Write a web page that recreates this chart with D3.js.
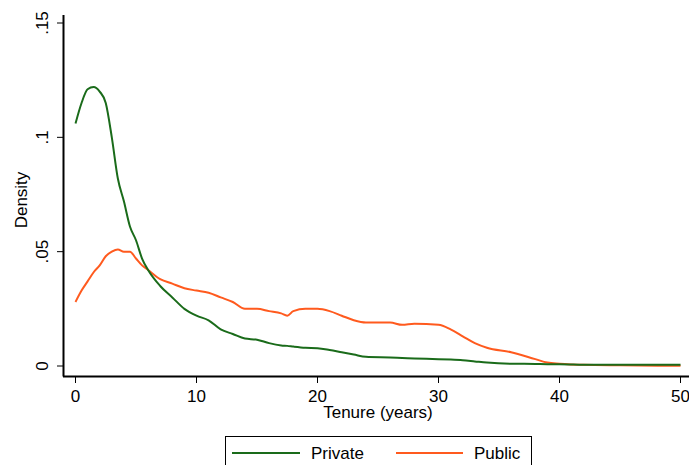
<!DOCTYPE html><html><head><meta charset="utf-8">
<script src="https://cdn.jsdelivr.net/npm/d3@7"></script>
<style>body{margin:0;background:#fff}text{font-family:"Liberation Sans",Arial,sans-serif}</style></head><body>
<svg id="c" width="689" height="465"></svg>
<script>
const tenure=[0,0.5,1,1.5,2,2.5,3,3.5,4,4.5,5,5.5,6,7,8,9,10,11,12,13,14,15,16,17,17.5,18,19,20,21,22,23,24,26,27,28,30,31,32,33,34,36,38,39,40,42,45,50];
const privateD=[0.106,0.115,0.121,0.122,0.12,0.115,0.10,0.082,0.072,0.061,0.055,0.047,0.042,0.035,0.030,0.025,0.022,0.020,0.016,0.014,0.012,0.0115,0.010,0.009,0.0088,0.0085,0.008,0.0078,0.007,0.006,0.005,0.004,0.0037,0.0035,0.0033,0.003,0.0028,0.0025,0.002,0.0015,0.001,0.0009,0.0008,0.0008,0.0006,0.0005,0.0005];
const publicD=[0.028,0.033,0.037,0.041,0.044,0.048,0.050,0.051,0.050,0.050,0.047,0.044,0.042,0.038,0.036,0.034,0.033,0.032,0.030,0.028,0.025,0.025,0.024,0.023,0.022,0.024,0.025,0.025,0.024,0.022,0.020,0.019,0.019,0.018,0.0185,0.018,0.016,0.013,0.010,0.008,0.006,0.003,0.0015,0.001,0.0005,0.0003,0.0001];
const xTicks=[0,10,20,30,40,50], yTicks=[0,0.05,0.1,0.15], yLabels=["0",".05",".1",".15"];
const svg=d3.select("#c");
const x=d3.scaleLinear([0,50],[75.5,680.5]);
const y=d3.scaleLinear([0,0.15],[366,23]);
svg.append("line").attr("x1",63.5).attr("x2",63.5).attr("y1",15).attr("y2",376.5).attr("stroke","#000").attr("stroke-width",2);
svg.append("line").attr("x1",63).attr("x2",689).attr("y1",376.5).attr("y2",376.5).attr("stroke","#000").attr("stroke-width",2);
xTicks.forEach(t=>{svg.append("line").attr("x1",x(t)).attr("x2",x(t)).attr("y1",377).attr("y2",383).attr("stroke","#000");
 svg.append("text").attr("x",x(t)).attr("y",402).attr("text-anchor","middle").attr("font-size",17).text(t);});
yTicks.forEach((t,i)=>{svg.append("line").attr("x1",57).attr("x2",63).attr("y1",y(t)).attr("y2",y(t)).attr("stroke","#000");
 svg.append("text").attr("transform",`translate(48,${y(t)}) rotate(-90)`).attr("text-anchor","middle").attr("font-size",17).text(yLabels[i]);});
svg.append("text").attr("x",378).attr("y",418).attr("text-anchor","middle").attr("font-size",17).text("Tenure (years)");
svg.append("text").attr("transform","translate(27,200) rotate(-90)").attr("text-anchor","middle").attr("font-size",17).text("Density");
const line=s=>d3.line().x((d,i)=>x(tenure[i])).y(d=>y(d)).curve(d3.curveMonotoneX)(s);
svg.append("path").attr("d",line(publicD)).attr("fill","none").attr("stroke","#ff5a1e").attr("stroke-width",2);
svg.append("path").attr("d",line(privateD)).attr("fill","none").attr("stroke","#1a6b1a").attr("stroke-width",2);
svg.append("rect").attr("x",225.5).attr("y",436.5).attr("width",306).attr("height",40).attr("fill","#fff").attr("stroke","#000");
svg.append("line").attr("x1",232).attr("x2",300).attr("y1",453).attr("y2",453).attr("stroke","#1a6b1a").attr("stroke-width",2);
svg.append("text").attr("x",311).attr("y",459).attr("font-size",17).text("Private");
svg.append("line").attr("x1",396).attr("x2",463).attr("y1",453).attr("y2",453).attr("stroke","#ff5a1e").attr("stroke-width",2);
svg.append("text").attr("x",474).attr("y",459).attr("font-size",17).text("Public");
</script></body></html>
